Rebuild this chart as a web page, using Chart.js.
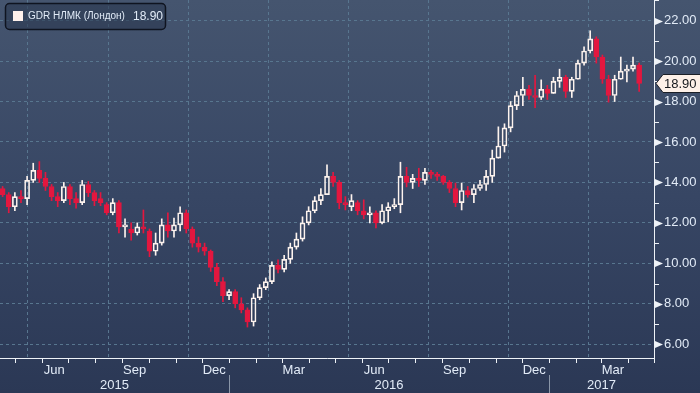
<!DOCTYPE html>
<html>
<head>
<meta charset="utf-8">
<style>
  html, body { margin: 0; padding: 0; background: #2c3956; }
  canvas { display: block; }
</style>
</head>
<body>
<canvas id="chart" width="700" height="393"></canvas>
<script src="https://cdn.jsdelivr.net/npm/chart.js@4.4.0/dist/chart.umd.min.js"></script>
<script>
// weekly candles (week ending Friday)
const weeks = [
  '2015-04-17', '2015-04-24', '2015-05-01', '2015-05-08', '2015-05-15', '2015-05-22', '2015-05-29',
  '2015-06-05', '2015-06-12', '2015-06-19', '2015-06-26', '2015-07-03', '2015-07-10', '2015-07-17',
  '2015-07-24', '2015-07-31', '2015-08-07', '2015-08-14', '2015-08-21', '2015-08-28', '2015-09-04',
  '2015-09-11', '2015-09-18', '2015-09-25', '2015-10-02', '2015-10-09', '2015-10-16', '2015-10-23',
  '2015-10-30', '2015-11-06', '2015-11-13', '2015-11-20', '2015-11-27', '2015-12-04', '2015-12-11',
  '2015-12-18', '2015-12-25', '2016-01-01', '2016-01-08', '2016-01-15', '2016-01-22', '2016-01-29',
  '2016-02-05', '2016-02-12', '2016-02-19', '2016-02-26', '2016-03-04', '2016-03-11', '2016-03-18',
  '2016-03-25', '2016-04-01', '2016-04-08', '2016-04-15', '2016-04-22', '2016-04-29', '2016-05-06',
  '2016-05-13', '2016-05-20', '2016-05-27', '2016-06-03', '2016-06-10', '2016-06-17', '2016-06-24',
  '2016-07-01', '2016-07-08', '2016-07-15', '2016-07-22', '2016-07-29', '2016-08-05', '2016-08-12',
  '2016-08-19', '2016-08-26', '2016-09-02', '2016-09-09', '2016-09-16', '2016-09-23', '2016-09-30',
  '2016-10-07', '2016-10-14', '2016-10-21', '2016-10-28', '2016-11-04', '2016-11-11', '2016-11-18',
  '2016-11-25', '2016-12-02', '2016-12-09', '2016-12-16', '2016-12-23', '2016-12-30', '2017-01-06',
  '2017-01-13', '2017-01-20', '2017-01-27', '2017-02-03', '2017-02-10', '2017-02-17', '2017-02-24',
  '2017-03-03', '2017-03-10', '2017-03-17', '2017-03-24', '2017-03-31', '2017-04-07', '2017-04-14'
];
const open = [
  13.7, 13.4, 12.8, 13.3, 13.2, 14.1, 14.6, 14.2, 13.8, 13.3, 13.1, 13.8, 13.2, 13.0, 13.9,
  13.5, 13.2, 12.9, 12.5, 13.0, 11.8, 11.7, 11.5, 11.8, 11.6, 10.6, 11.0, 11.9, 11.6, 11.9,
  12.5, 11.7, 11.0, 10.8, 10.6, 9.8, 9.1, 8.4, 8.6, 8.0, 7.7, 7.1, 8.3, 8.8, 9.1,
  9.9, 9.7, 10.2, 10.8, 11.2, 12.0, 12.6, 13.1, 13.4, 14.3, 14.0, 13.0, 12.8, 13.0, 12.6,
  12.4, 12.5, 12.0, 12.6, 12.8, 12.9, 14.3, 14.0, 14.2, 14.1, 14.5, 14.4, 14.3, 14.0, 13.7,
  13.0, 13.6, 13.4, 13.7, 13.9, 14.3, 15.2, 15.8, 16.7, 17.8, 18.3, 18.6, 18.3, 18.2, 18.6,
  18.4, 19.0, 19.2, 18.5, 19.1, 19.9, 20.5, 21.1, 20.2, 19.1, 18.3, 19.1, 19.5, 19.6, 19.8
];
const high = [
  13.8, 13.5, 13.5, 13.6, 14.3, 14.95, 15.03, 14.5, 13.9, 13.5, 14.0, 13.9, 13.5, 14.1, 14.05,
  13.6, 13.5, 13.0, 13.2, 13.1, 12.2, 12.0, 12.0, 12.64, 11.7, 11.5, 12.2, 12.5, 12.24, 12.8,
  12.64, 11.8, 11.3, 11.0, 10.66, 10.0, 9.3, 8.7, 8.7, 8.3, 7.8, 8.5, 8.95, 9.28, 10.07,
  10.17, 10.4, 11.0, 11.5, 12.3, 12.8, 13.3, 13.7, 14.87, 14.5, 14.1, 13.3, 13.4, 13.1, 13.14,
  12.8, 12.6, 12.9, 13.0, 13.2, 15.0, 14.75, 14.4, 14.7, 14.7, 14.6, 14.5, 14.35, 14.1, 13.97,
  13.97, 13.8, 13.9, 14.1, 14.6, 15.6, 16.75, 16.9, 18.0, 18.5, 19.2, 18.8, 19.3, 19.07, 18.8,
  19.2, 19.6, 19.3, 19.2, 20.05, 20.7, 21.5, 21.2, 20.3, 19.3, 19.3, 20.2, 19.8, 20.2, 19.9
];
const low = [
  13.3, 12.5, 12.6, 13.0, 12.9, 14.0, 14.0, 13.6, 13.1, 12.8, 13.0, 12.9, 12.73, 12.9, 13.3,
  12.85, 12.85, 12.4, 12.4, 11.5, 11.3, 11.15, 11.4, 11.5, 10.33, 10.4, 10.9, 11.3, 11.3, 11.6,
  11.5, 10.8, 10.56, 10.4, 9.6, 8.9, 8.1, 8.2, 7.8, 7.55, 6.85, 6.9, 8.2, 8.7, 9.0,
  9.53, 9.58, 10.0, 10.7, 11.1, 11.9, 12.5, 12.9, 13.4, 13.8, 12.7, 12.64, 12.6, 12.4, 12.2,
  12.0, 11.75, 11.95, 12.05, 12.7, 12.5, 13.78, 13.7, 13.8, 13.9, 14.2, 14.1, 13.9, 13.5, 12.8,
  12.64, 13.27, 13.0, 13.6, 13.6, 14.0, 15.2, 15.5, 16.5, 17.6, 17.8, 18.1, 17.7, 18.1, 18.1,
  18.4, 18.7, 18.2, 18.2, 19.1, 19.8, 20.4, 19.9, 18.9, 17.97, 18.0, 19.1, 18.97, 19.5, 18.5
];
const close = [
  13.4, 12.8, 13.3, 13.2, 14.1, 14.6, 14.2, 13.8, 13.3, 13.1, 13.8, 13.2, 13.0, 13.9, 13.5,
  13.1, 13.0, 12.5, 13.0, 11.8, 11.9, 11.5, 11.8, 11.7, 10.6, 11.0, 11.9, 11.6, 11.9, 12.5,
  11.7, 11.0, 10.8, 10.6, 9.8, 9.1, 8.4, 8.6, 8.0, 7.7, 7.1, 8.3, 8.8, 9.1, 9.9,
  9.7, 10.2, 10.8, 11.2, 12.0, 12.6, 13.1, 13.4, 14.3, 14.0, 13.0, 12.9, 13.1, 12.6, 12.4,
  12.5, 12.0, 12.6, 12.8, 12.9, 14.3, 14.0, 14.2, 14.1, 14.5, 14.4, 14.3, 14.0, 13.7, 13.0,
  13.6, 13.4, 13.7, 13.9, 14.3, 15.2, 15.8, 16.7, 17.8, 18.3, 18.6, 18.3, 18.2, 18.6, 18.4,
  19.0, 19.2, 18.5, 19.1, 19.9, 20.5, 21.1, 20.2, 19.1, 18.3, 19.1, 19.5, 19.6, 19.8, 18.90
];

const yTicks = [6, 8, 10, 12, 14, 16, 18, 20, 22];
const quarterStarts = ['2015-07-01', '2015-10-01', '2016-01-01', '2016-04-01', '2016-07-01', '2016-10-01', '2017-01-01', '2017-04-01'];
const monthLabels = ['Jun', 'Sep', 'Dec', 'Mar', 'Jun', 'Sep', 'Dec', 'Mar'];
const monthLabelDates = ['2015-06-15', '2015-09-15', '2015-12-15', '2016-03-15', '2016-06-15', '2016-09-15', '2016-12-15', '2017-03-15'];
const yearLabels = ['2015', '2016', '2017'];
const yearStarts = ['2016-01-01', '2017-01-01'];
const seriesName = 'GDR НЛМК (Лондон)';

const X_MIN = '2015-04-14';
const X_MAX = '2017-05-01';
const WHITE = '#fdf3ee';
const RED = '#e3173f';
const GRID = '#58768f';
const LABEL = '#e2ebf7';
const FONT = 'Liberation Sans';

function dayOf(s) {
  const [y, m, d] = s.split('-').map(Number);
  return Date.UTC(y, m - 1, d) / 864e5;
}

const xs = weeks.map(dayOf);
const up = close.map((c, i) => c >= open[i]);
const bodies = xs.map((x, i) => ({ x, y: [Math.min(open[i], close[i]), Math.max(open[i], close[i])] }));
const upperWicks = xs.map((x, i) => ({ x, y: [Math.max(open[i], close[i]), high[i]] }));
const lowerWicks = xs.map((x, i) => ({ x, y: [low[i], Math.min(open[i], close[i])] }));
const candleColor = ctx => (up[ctx.dataIndex] ? WHITE : RED);

// month list for small ticks under the axis
function monthStarts() {
  const out = [];
  for (let y = 2015; y <= 2017; y++) {
    for (let m = 1; m <= 12; m++) {
      const s = y + '-' + String(m).padStart(2, '0') + '-01';
      if (dayOf(s) > dayOf(X_MIN) && dayOf(s) <= dayOf(X_MAX)) out.push(s);
    }
  }
  return out;
}

const decor = {
  id: 'decor',
  beforeDraw(chart) {
    const { ctx, width, height } = chart;
    const g = ctx.createLinearGradient(0, 0, 0, height);
    g.addColorStop(0, '#45556f');
    g.addColorStop(0.5, '#374664');
    g.addColorStop(1, '#2b3855');
    ctx.save();
    ctx.fillStyle = g;
    ctx.fillRect(0, 0, width, height);
    ctx.restore();
  },
  afterDraw(chart) {
    const { ctx, chartArea: a, scales: { x, y } } = chart;
    ctx.save();

    // axis lines
    ctx.strokeStyle = '#eef2f7';
    ctx.lineWidth = 1;
    ctx.beginPath();
    ctx.moveTo(Math.round(a.right) + 0.5, 0);
    ctx.lineTo(Math.round(a.right) + 0.5, Math.round(a.bottom) + 0.5);
    ctx.moveTo(0, Math.round(a.bottom) + 0.5);
    ctx.lineTo(Math.round(a.right) + 0.5, Math.round(a.bottom) + 0.5);
    ctx.stroke();

    // y: triangles at major ticks, short marks at odd values
    const rx = Math.round(a.right) + 1;
    ctx.fillStyle = '#eef2f7';
    yTicks.forEach(v => {
      const py = Math.round(y.getPixelForValue(v)) + 0.5;
      ctx.beginPath();
      ctx.moveTo(rx, py - 3.5);
      ctx.lineTo(rx + 8, py);
      ctx.lineTo(rx, py + 3.5);
      ctx.closePath();
      ctx.fill();
    });
    ctx.beginPath();
    for (let v = 7; v <= 23; v += 2) {
      const py = Math.round(y.getPixelForValue(v)) + 0.5;
      ctx.moveTo(rx, py);
      ctx.lineTo(rx + 4, py);
    }
    ctx.stroke();

    // x: month ticks
    ctx.beginPath();
    monthStarts().forEach(s => {
      const px = Math.round(x.getPixelForValue(dayOf(s))) + 0.5;
      ctx.moveTo(px, a.bottom);
      ctx.lineTo(px, a.bottom + 5);
    });
    ctx.stroke();

    ctx.font = '13px "' + FONT + '"';
    ctx.fillStyle = LABEL;
    ctx.textAlign = 'center';
    ctx.textBaseline = 'middle';
    monthLabels.forEach((t, i) => {
      ctx.fillText(t, x.getPixelForValue(dayOf(monthLabelDates[i])), a.bottom + 12);
    });

    // years
    const bounds = [x.getPixelForValue(dayOf(X_MIN))]
      .concat(yearStarts.map(s => x.getPixelForValue(dayOf(s))))
      .concat([x.getPixelForValue(dayOf(X_MAX))]);
    yearLabels.forEach((t, i) => {
      ctx.fillText(t, (bounds[i] + bounds[i + 1]) / 2, a.bottom + 27);
    });
    ctx.strokeStyle = '#8a96a8';
    ctx.beginPath();
    yearStarts.forEach(s => {
      const px = Math.round(x.getPixelForValue(dayOf(s))) + 0.5;
      ctx.moveTo(px, a.bottom + 17);
      ctx.lineTo(px, chart.height);
    });
    ctx.stroke();

    // last price tag
    const last = close[close.length - 1];
    const ly = Math.round(y.getPixelForValue(last)) + 0.5;
    ctx.fillStyle = '#fdf0e8';
    ctx.strokeStyle = '#1b1f27';
    ctx.beginPath();
    ctx.moveTo(rx + 1, ly);
    ctx.lineTo(rx + 8, ly - 9);
    ctx.lineTo(chart.width + 1, ly - 9);
    ctx.lineTo(chart.width + 1, ly + 9);
    ctx.lineTo(rx + 8, ly + 9);
    ctx.closePath();
    ctx.fill();
    ctx.stroke();
    ctx.fillStyle = '#15181d';
    ctx.textAlign = 'left';
    ctx.fillText(last.toFixed(2), rx + 9, ly + 0.5);

    // legend box
    ctx.fillStyle = 'rgba(40, 52, 76, 0.55)';
    ctx.strokeStyle = '#0f1420';
    ctx.lineWidth = 1.5;
    ctx.beginPath();
    ctx.roundRect(5.5, 3.5, 160, 26, 4);
    ctx.fill();
    ctx.stroke();
    ctx.fillStyle = '#fff1ec';
    ctx.fillRect(13, 11, 10, 10);
    // shrink the name font until it fits the 99px slot of the original
    let size = 12;
    ctx.font = size + 'px "' + FONT + '"';
    while (ctx.measureText(seriesName).width > 99 && size > 9) {
      size -= 0.25;
      ctx.font = size + 'px "' + FONT + '"';
    }
    ctx.fillStyle = LABEL;
    ctx.fillText(seriesName, 28, 16.5);
    ctx.font = '12px "' + FONT + '"';
    ctx.fillText(last.toFixed(2), 133, 16.5);

    ctx.restore();
  }
};

new Chart(document.getElementById('chart'), {
  type: 'bar',
  data: {
    datasets: [
      { data: upperWicks, barThickness: 1, backgroundColor: candleColor, borderWidth: 0 },
      { data: lowerWicks, barThickness: 1, backgroundColor: candleColor, borderWidth: 0 },
      {
        data: bodies,
        barThickness: 5,
        backgroundColor: ctx => (up[ctx.dataIndex] ? 'rgba(0,0,0,0)' : RED),
        borderColor: candleColor,
        borderWidth: 1,
        borderSkipped: false
      }
    ]
  },
  options: {
    responsive: false,
    animation: false,
    devicePixelRatio: 1,
    layout: { padding: 0 },
    datasets: { bar: { grouped: false } },
    plugins: { legend: { display: false }, tooltip: { enabled: false } },
    scales: {
      x: {
        type: 'linear',
        min: dayOf(X_MIN),
        max: dayOf(X_MAX),
        offset: false,
        afterBuildTicks: s => { s.ticks = quarterStarts.map(d => ({ value: dayOf(d) })); },
        afterFit: s => { s.height = 35; s.paddingLeft = 0; s.paddingRight = 0; },
        ticks: { display: false },
        grid: { color: GRID, drawTicks: false },
        border: { display: false, dash: [3, 3] }
      },
      y: {
        position: 'right',
        min: 5.32,
        max: 23.02,
        afterBuildTicks: s => { s.ticks = yTicks.map(v => ({ value: v })); },
        afterFit: s => { s.width = 46; s.paddingTop = 0; s.paddingBottom = 0; },
        ticks: {
          color: LABEL,
          font: { family: FONT, size: 13 },
          padding: 10,
          callback: v => Number(v).toFixed(2)
        },
        grid: { color: GRID, drawTicks: false },
        border: { display: false, dash: [3, 3] }
      }
    }
  },
  plugins: [decor]
});
</script>
</body>
</html>
